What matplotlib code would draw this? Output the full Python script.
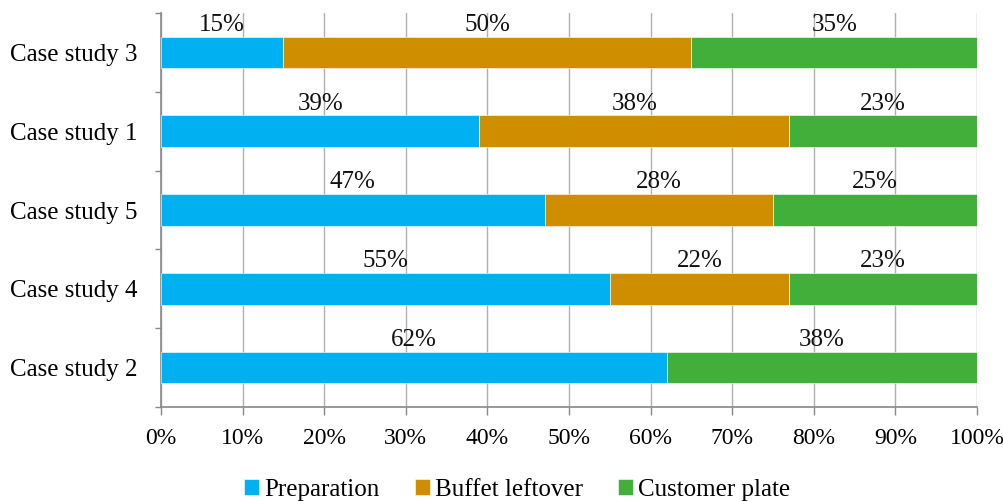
import numpy as np
import matplotlib.pyplot as plt
from matplotlib.ticker import FixedLocator, PercentFormatter

# shares of waste per stage, top row first
cases = ['Case study 3', 'Case study 1', 'Case study 5', 'Case study 4', 'Case study 2']
preparation = [15, 39, 47, 55, 62]
buffet_leftover = [50, 38, 28, 22, 0]
customer_plate = [35, 23, 25, 23, 38]

series = [
    ('Preparation', preparation, '#00B0F0'),
    ('Buffet leftover', buffet_leftover, '#CE8E00'),
    ('Customer plate', customer_plate, '#43AF3B'),
]

plt.rcParams['font.family'] = ['Liberation Serif', 'DejaVu Serif']
plt.rcParams['font.size'] = 18

fig = plt.figure(figsize=(10.04, 5.01), dpi=100)
ax = fig.add_axes([0.1604, 0.1876, 0.8127, 0.7864])

y = np.arange(len(cases))[::-1]
left = np.zeros(len(cases))
bar_h = 0.4
for name, vals, col in series:
    vals = np.array(vals, dtype=float)
    ax.barh(y, vals, left=left, height=bar_h, color=col, label=name,
            edgecolor='white', linewidth=0.4, zorder=3)
    for yi, l, v in zip(y, left, vals):
        if v > 0:
            ax.text(l + v / 2, yi + bar_h / 2 + 0.01, f'{v:.0f}%',
                    ha='center', va='bottom', fontsize=18, color='#111111', zorder=4)
    left += vals

ax.set_xlim(0, 100)
ax.set_ylim(-0.5, len(cases) - 0.5)
ax.xaxis.set_major_locator(FixedLocator(np.arange(0, 101, 10)))
ax.xaxis.set_major_formatter(PercentFormatter(decimals=0))
ax.grid(axis='x', color='#B0B0B0', linewidth=1.0, zorder=0)

ax.set_yticks(y)
ax.set_yticklabels(cases)
ax.yaxis.set_minor_locator(FixedLocator(np.arange(-0.5, len(cases), 1.0)))
ax.tick_params(axis='y', which='major', length=0, pad=17)
ax.tick_params(axis='y', which='minor', length=4.5, width=1, color='#888888')
ax.tick_params(axis='x', which='major', length=6, width=1, color='#888888', pad=9,
               labelsize=17)

for s in ('top', 'right'):
    ax.spines[s].set_visible(False)
for s in ('left', 'bottom'):
    ax.spines[s].set_color('#888888')
    ax.spines[s].set_linewidth(1.2)

fig.legend(loc='lower center', bbox_to_anchor=(0.515, -0.045), ncol=3, frameon=False,
           handlelength=0.6, handleheight=0.6, handletextpad=0.2, columnspacing=1.4,
           fontsize=18)

fig.savefig('out.png', dpi=100)
